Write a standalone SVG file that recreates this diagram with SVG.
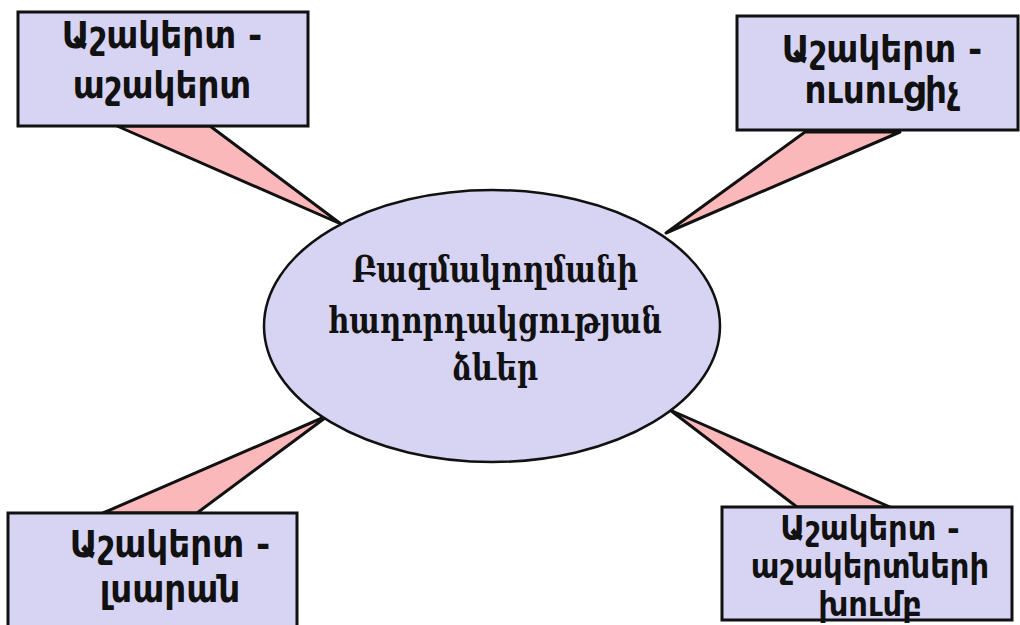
<svg xmlns="http://www.w3.org/2000/svg" width="1020" height="625" viewBox="0 0 1020 625">
<style>
.box{fill:#d6d3f3;stroke:#111;stroke-width:3}
.ell{fill:#d6d3f3;stroke:#111;stroke-width:2.5}
.call{fill:#fbb8bb;stroke:#111;stroke-width:3;stroke-linejoin:round}
.t{font-family:"DejaVu Sans Condensed","DejaVu Sans",sans-serif;font-weight:bold;font-size:38px;fill:#111;text-anchor:middle}
.s{font-size:34px}
.c{font-family:"DejaVu Serif Condensed","DejaVu Serif",serif;font-weight:bold;font-size:37px;fill:#111;text-anchor:middle}
</style>
<rect width="1020" height="625" fill="#fff"/>
<g id="connectors">
<polygon class="call" points="117,126 210,126 341,224"/>
<polygon class="call" points="805,132 900,132 666,233"/>
<polygon class="call" points="103,513 197,513 329,415"/>
<polygon class="call" points="797,507 890,507 670,410"/>
</g>
<g id="center">
<ellipse class="ell" cx="492" cy="326" rx="228" ry="136"/>
<text class="c" x="495" y="282" textLength="286" lengthAdjust="spacingAndGlyphs">Բազմակողմանի</text>
<text class="c" x="495" y="333" textLength="334" lengthAdjust="spacingAndGlyphs">հաղորդակցության</text>
<text class="c" x="495" y="380" textLength="86" lengthAdjust="spacingAndGlyphs">ձևեր</text>
</g>
<g id="node-tl">
<rect class="box" x="18" y="12" width="290" height="114"/>
<text class="t" x="162" y="48">Աշակերտ -</text>
<text class="t" x="162" y="98">աշակերտ</text>
</g>
<g id="node-tr">
<rect class="box" x="737" y="16" width="281" height="114"/>
<text class="t" x="882" y="62">Աշակերտ -</text>
<text class="t" x="882" y="103">ուսուցիչ</text>
</g>
<g id="node-bl">
<rect class="box" x="8" y="513" width="289" height="125"/>
<text class="t" x="170" y="557">Աշակերտ -</text>
<text class="t" x="170" y="602">լսարան</text>
</g>
<g id="node-br">
<rect class="box" x="722" y="507" width="290" height="113"/>
<text class="t s" x="870" y="540">Աշակերտ -</text>
<text class="t s" x="870" y="578">աշակերտների</text>
<text class="t s" x="870" y="616">խումբ</text>
</g>
</svg>
